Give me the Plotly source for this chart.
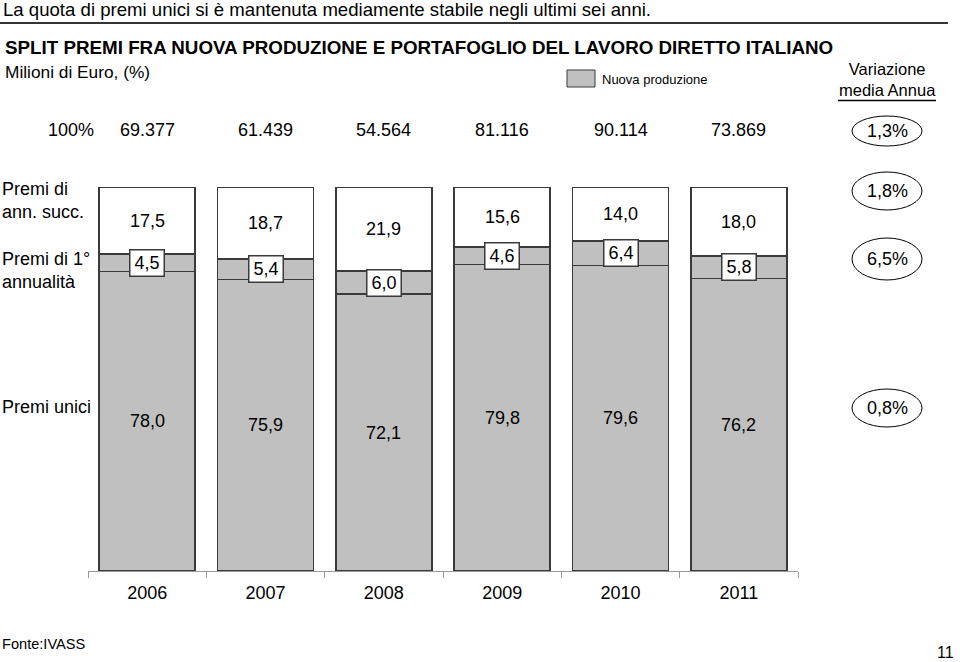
import plotly.graph_objects as go

W, H = 960, 662

years = ["2006", "2007", "2008", "2009", "2010", "2011"]
totals = ["69.377", "61.439", "54.564", "81.116", "90.114", "73.869"]
premi_unici = [78.0, 75.9, 72.1, 79.8, 79.6, 76.2]
premi_prima = [4.5, 5.4, 6.0, 4.6, 6.4, 5.8]
premi_succ = [17.5, 18.7, 21.9, 15.6, 14.0, 18.0]
var_labels = ["1,3%", "1,8%", "6,5%", "0,8%"]

FONT = "Arial, Liberation Sans, sans-serif"
GRAY = "#C0C0C0"
EDGE = "#3a3a3a"


def px(x):
    return x / W


def py(y):
    return 1 - y / H


def fmt(v):
    return f"{v:.1f}".replace(".", ",")


def txt(x, y, text, size=18, xanchor="center", yanchor="middle", xref="paper", yref="paper", **kw):
    return dict(x=x, y=y, xref=xref, yref=yref, text=text, showarrow=False,
                xanchor=xanchor, yanchor=yanchor, font=dict(size=size, color="black"), **kw)


fig = go.Figure()
fig.add_trace(go.Bar(x=years, y=premi_unici, marker=dict(color=GRAY, line=dict(color=EDGE, width=1.5)),
                     width=0.81, name="Premi unici", showlegend=False, hoverinfo="skip"))
fig.add_trace(go.Bar(x=years, y=premi_prima, marker=dict(color=GRAY, line=dict(color=EDGE, width=1.5)),
                     width=0.81, name="Premi di 1° annualità", showlegend=False, hoverinfo="skip"))
fig.add_trace(go.Bar(x=years, y=premi_succ, marker=dict(color="white", line=dict(color=EDGE, width=1.5)),
                     width=0.81, name="Premi di ann. succ.", showlegend=False, hoverinfo="skip"))

ann = []
shapes = []
for i, yr in enumerate(years):
    u, p, s = premi_unici[i], premi_prima[i], premi_succ[i]
    ann.append(txt(i, u / 2, fmt(u), xref="x", yref="y"))
    ann.append(txt(i, u + p / 2, fmt(p), xref="x", yref="y", bgcolor="white", bordercolor=EDGE,
                   borderwidth=1.5, borderpad=2, width=29, height=21))
    ann.append(txt(i, u + p + s / 2, fmt(s), xref="x", yref="y"))
    ann.append(txt(i, py(130), totals[i], xref="x", yref="paper"))

# row labels
ann.append(txt(px(96), py(130), "100%", xanchor="right"))
ann.append(txt(px(0), py(201), "Premi di<br>ann. succ.", xanchor="left", align="left"))
ann.append(txt(px(0), py(270), "Premi di 1°<br>annualità", xanchor="left", align="left"))
ann.append(txt(px(0), py(407), "Premi unici", xanchor="left", align="left"))

# variazione ellipses
ell_centers = [131, 191, 259, 408]
ell_h = [30, 38, 42, 38]
for lab, cy, h in zip(var_labels, ell_centers, ell_h):
    shapes.append(dict(type="circle", xref="paper", yref="paper", x0=px(852), x1=px(922),
                       y0=py(cy + h / 2), y1=py(cy - h / 2), line=dict(color="black", width=1)))
    ann.append(txt(px(887), py(cy), lab))

# titles
ann.append(txt(px(1), py(10), "La quota di premi unici si è mantenuta mediamente stabile negli ultimi sei anni.",
               size=18.6, xanchor="left"))
shapes.append(dict(type="line", xref="paper", yref="paper", x0=0, x1=px(948), y0=py(23), y1=py(23),
                   line=dict(color="#333333", width=2)))
ann.append(txt(px(3), py(47), "<b>SPLIT PREMI FRA NUOVA PRODUZIONE E PORTAFOGLIO DEL LAVORO DIRETTO ITALIANO</b>",
               size=18.8, xanchor="left"))
ann.append(txt(px(3), py(72), "Milioni di Euro, (%)", size=17.3, xanchor="left"))

# legend
shapes.append(dict(type="rect", xref="paper", yref="paper", x0=px(567), x1=px(595), y0=py(87), y1=py(70),
                   fillcolor=GRAY, line=dict(color=EDGE, width=1)))
ann.append(txt(px(600), py(79), "Nuova produzione", size=13, xanchor="left"))
ann.append(txt(px(887), py(79.5), "Variazione<br>media Annua", size=16.5))
shapes.append(dict(type="line", xref="paper", yref="paper", x0=px(838), x1=px(936), y0=py(100.5), y1=py(100.5),
                   line=dict(color="black", width=1.5)))

# footer
ann.append(txt(px(0), py(644), "Fonte:IVASS", size=14.6, xanchor="left"))
ann.append(txt(px(956), py(652), "11", size=16, xanchor="right"))

fig.update_layout(
    width=W, height=H, margin=dict(l=0, r=0, t=0, b=0),
    paper_bgcolor="white", plot_bgcolor="white",
    barmode="stack", bargap=0.19,
    font=dict(family=FONT, color="black"),
    annotations=ann, shapes=shapes, showlegend=False,
    xaxis=dict(domain=[px(88), px(798)], type="category", range=[-0.5, 5.5],
               showline=True, linecolor="#9a9a9a", linewidth=1, tickson="boundaries",
               ticks="outside", ticklen=6, tickcolor="#9a9a9a", tickfont=dict(size=18),
               ticklabelstandoff=5,
               showgrid=False, zeroline=False, fixedrange=True),
    yaxis=dict(domain=[py(571), py(187)], range=[0, 100], visible=False, fixedrange=True),
)

fig.write_html("out.html", config={"displayModeBar": False},
               post_script="document.body.style.margin='0';")
